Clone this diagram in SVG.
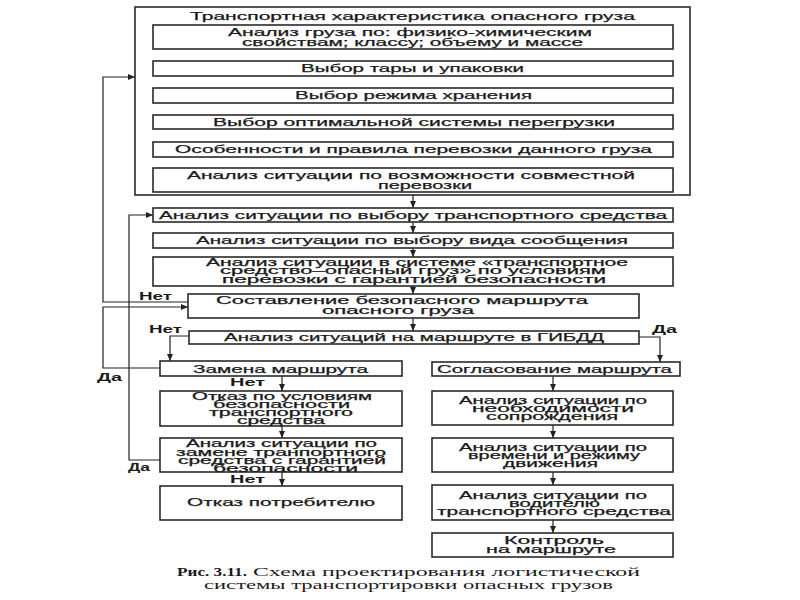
<svg xmlns="http://www.w3.org/2000/svg" width="800" height="600" viewBox="0 0 800 600">
<defs>
<marker id="ah" markerUnits="userSpaceOnUse" markerWidth="7" markerHeight="6" refX="7" refY="3" orient="auto">
<path d="M0,0 L7,3 L0,6 z" fill="#222"/>
</marker>
<style>
.b{fill:#fff;stroke:#2a2a2a;stroke-width:1.6}
.t{font-family:"Liberation Sans",Arial,sans-serif;font-size:11px;fill:#1a1a1a;stroke:#1a1a1a;stroke-width:0.25}
.m{font-family:"Liberation Sans",Arial,sans-serif;font-size:10px;fill:#1a1a1a;stroke:#1a1a1a;stroke-width:0.25}
.l{font-family:"Liberation Sans",Arial,sans-serif;font-size:11px;font-weight:bold;fill:#1a1a1a}
.c{font-family:"Liberation Serif","Times New Roman",serif;font-size:13px;fill:#1a1a1a}
.a{fill:none;stroke:#222;stroke-width:1.2;marker-end:url(#ah)}
</style>
</defs>
<rect width="800" height="600" fill="#fff"/>

<g id="connectors">
<path class="a" d="M413,49 V61"/>
<path class="a" d="M413,76 V88"/>
<path class="a" d="M413,103 V115"/>
<path class="a" d="M413,129 V142"/>
<path class="a" d="M413,157 V168"/>
<path class="a" d="M413,195 V208"/>
<path class="a" d="M413,222 V233"/>
<path class="a" d="M413,248 V257"/>
<path class="a" d="M413,286 V294"/>
<path class="a" d="M413,318 V331"/>
<path class="a" d="M189,336 H170 V361"/>
<path class="a" d="M639,337 H660 V362"/>
<path class="a" d="M282,376 V391"/>
<path class="a" d="M282,426 V438"/>
<path class="a" d="M282,472 V486"/>
<path class="a" d="M553,376 V391"/>
<path class="a" d="M553,425 V438"/>
<path class="a" d="M553,472 V485"/>
<path class="a" d="M553,520 V533"/>
<path class="a" d="M188,302 H103 V77 H135"/>
<path class="a" d="M160,368 H103 V307 H188"/>
<path class="a" d="M160,460 H129 V215 H153"/>
<text class="l" x="139" y="300" textLength="33" lengthAdjust="spacingAndGlyphs">Нет</text>
<text class="l" x="149" y="333" textLength="33" lengthAdjust="spacingAndGlyphs">Нет</text>
<text class="l" x="652" y="333" textLength="25" lengthAdjust="spacingAndGlyphs">Да</text>
<text class="l" x="97" y="381" textLength="25" lengthAdjust="spacingAndGlyphs">Да</text>
<text class="l" x="128" y="471" textLength="22" lengthAdjust="spacingAndGlyphs">Да</text>
<text class="l" x="230" y="386" textLength="35" lengthAdjust="spacingAndGlyphs">Нет</text>
<text class="l" x="230" y="483" textLength="35" lengthAdjust="spacingAndGlyphs">Нет</text>
</g>

<g id="n_transport">
<rect class="b" x="135" y="7" width="555" height="188"/>
<text class="t" x="190" y="20" textLength="445" lengthAdjust="spacingAndGlyphs">Транспортная характеристика опасного груза</text>
</g>
<g id="n_analiz_gruza">
<rect class="b" x="153" y="25" width="520" height="24"/>
<text class="t" x="228" y="36" textLength="364" lengthAdjust="spacingAndGlyphs">Анализ груза по: физико-химическим</text>
<text class="t" x="242" y="46" textLength="341" lengthAdjust="spacingAndGlyphs">свойствам; классу; объему и массе</text>
</g>
<g id="n_tara">
<rect class="b" x="153" y="61" width="520" height="15"/>
<text class="t" x="301" y="72" textLength="223" lengthAdjust="spacingAndGlyphs">Выбор тары и упаковки</text>
</g>
<g id="n_hranenie">
<rect class="b" x="153" y="88" width="520" height="15"/>
<text class="t" x="295" y="99" textLength="237" lengthAdjust="spacingAndGlyphs">Выбор режима хранения</text>
</g>
<g id="n_peregruzka">
<rect class="b" x="153" y="115" width="520" height="14"/>
<text class="t" x="213" y="126" textLength="402" lengthAdjust="spacingAndGlyphs">Выбор оптимальной системы перегрузки</text>
</g>
<g id="n_pravila">
<rect class="b" x="153" y="142" width="520" height="15"/>
<text class="t" x="175" y="153" textLength="477" lengthAdjust="spacingAndGlyphs">Особенности и правила перевозки данного груза</text>
</g>
<g id="n_sovmest">
<rect class="b" x="153" y="168" width="520" height="24"/>
<text class="t" x="187" y="179" textLength="448" lengthAdjust="spacingAndGlyphs">Анализ ситуации по возможности совместной</text>
<text class="t" x="378" y="189" textLength="94" lengthAdjust="spacingAndGlyphs">перевозки</text>
</g>
<g id="n_vybor_ts">
<rect class="b" x="153" y="208" width="520" height="14"/>
<text class="t" x="159" y="219" textLength="508" lengthAdjust="spacingAndGlyphs">Анализ ситуации по выбору транспортного средства</text>
</g>
<g id="n_vid_soob">
<rect class="b" x="153" y="233" width="520" height="15"/>
<text class="t" x="196" y="244" textLength="432" lengthAdjust="spacingAndGlyphs">Анализ ситуации по выбору вида сообщения</text>
</g>
<g id="n_sistema">
<rect class="b" x="153" y="257" width="520" height="29"/>
<text class="m" x="206" y="265.5" textLength="422" lengthAdjust="spacingAndGlyphs">Анализ ситуации в системе «транспортное</text>
<text class="m" x="220" y="274" textLength="386" lengthAdjust="spacingAndGlyphs">средство–опасный груз» по условиям</text>
<text class="m" x="222" y="282.5" textLength="384" lengthAdjust="spacingAndGlyphs">перевозки с гарантией безопасности</text>
</g>
<g id="n_marshrut">
<rect class="b" x="188" y="294" width="451" height="24"/>
<text class="t" x="216" y="304" textLength="372" lengthAdjust="spacingAndGlyphs">Составление безопасного маршрута</text>
<text class="t" x="322" y="314" textLength="152" lengthAdjust="spacingAndGlyphs">опасного груза</text>
</g>
<g id="n_gibdd">
<rect class="b" x="189" y="331" width="450" height="13"/>
<text class="t" x="224" y="341" textLength="380" lengthAdjust="spacingAndGlyphs">Анализ ситуаций на маршруте в ГИБДД</text>
</g>
<g id="n_zamena">
<rect class="b" x="160" y="361" width="242" height="15"/>
<text class="t" x="193" y="373" textLength="175" lengthAdjust="spacingAndGlyphs">Замена маршрута</text>
</g>
<g id="n_otkaz_ts">
<rect class="b" x="160" y="391" width="242" height="35"/>
<text class="m" x="192" y="400" textLength="180" lengthAdjust="spacingAndGlyphs">Отказ по условиям</text>
<text class="m" x="213" y="408" textLength="137" lengthAdjust="spacingAndGlyphs">безопасности</text>
<text class="m" x="209" y="416" textLength="144" lengthAdjust="spacingAndGlyphs">транспортного</text>
<text class="m" x="237" y="424" textLength="88" lengthAdjust="spacingAndGlyphs">средства</text>
</g>
<g id="n_zamena_ts">
<rect class="b" x="160" y="438" width="242" height="34"/>
<text class="m" x="186" y="447" textLength="191" lengthAdjust="spacingAndGlyphs">Анализ ситуации по</text>
<text class="m" x="176" y="455.5" textLength="210" lengthAdjust="spacingAndGlyphs">замене транпортного</text>
<text class="m" x="178" y="464" textLength="208" lengthAdjust="spacingAndGlyphs">средства с гарантией</text>
<text class="m" x="213" y="472" textLength="145" lengthAdjust="spacingAndGlyphs">безопасности</text>
</g>
<g id="n_otkaz_potr">
<rect class="b" x="160" y="486" width="242" height="34"/>
<text class="t" x="187" y="506" textLength="188" lengthAdjust="spacingAndGlyphs">Отказ потребителю</text>
</g>
<g id="n_soglas">
<rect class="b" x="432" y="362" width="248" height="14"/>
<text class="t" x="437" y="373" textLength="235" lengthAdjust="spacingAndGlyphs">Согласование маршрута</text>
</g>
<g id="n_soprov">
<rect class="b" x="432" y="391" width="241" height="34"/>
<text class="m" x="459" y="404" textLength="188" lengthAdjust="spacingAndGlyphs">Анализ ситуации по</text>
<text class="m" x="472" y="412" textLength="162" lengthAdjust="spacingAndGlyphs">необходимости</text>
<text class="m" x="486" y="420" textLength="132" lengthAdjust="spacingAndGlyphs">сопрождения</text>
</g>
<g id="n_vremya">
<rect class="b" x="432" y="438" width="241" height="34"/>
<text class="m" x="459" y="451" textLength="188" lengthAdjust="spacingAndGlyphs">Анализ ситуации по</text>
<text class="m" x="468" y="459" textLength="172" lengthAdjust="spacingAndGlyphs">времени и режиму</text>
<text class="m" x="503" y="467" textLength="95" lengthAdjust="spacingAndGlyphs">движения</text>
</g>
<g id="n_voditel">
<rect class="b" x="432" y="485" width="241" height="35"/>
<text class="m" x="459" y="499" textLength="188" lengthAdjust="spacingAndGlyphs">Анализ ситуации по</text>
<text class="m" x="509" y="507" textLength="91" lengthAdjust="spacingAndGlyphs">водителю</text>
<text class="m" x="437" y="515" textLength="234" lengthAdjust="spacingAndGlyphs">транспортного средства</text>
</g>
<g id="n_kontrol">
<rect class="b" x="432" y="533" width="241" height="24"/>
<text class="t" x="504" y="544" textLength="100" lengthAdjust="spacingAndGlyphs">Контроль</text>
<text class="t" x="486" y="553" textLength="130" lengthAdjust="spacingAndGlyphs">на маршруте</text>
</g>

<g id="caption">
<text class="c" x="177" y="576" font-weight="bold" textLength="70" lengthAdjust="spacingAndGlyphs">Рис. 3.11.</text>
<text class="c" x="253" y="576" textLength="387" lengthAdjust="spacingAndGlyphs">Схема проектирования логистической</text>
<text class="c" x="204" y="589" textLength="409" lengthAdjust="spacingAndGlyphs">системы транспортировки опасных грузов</text>
</g>
</svg>
